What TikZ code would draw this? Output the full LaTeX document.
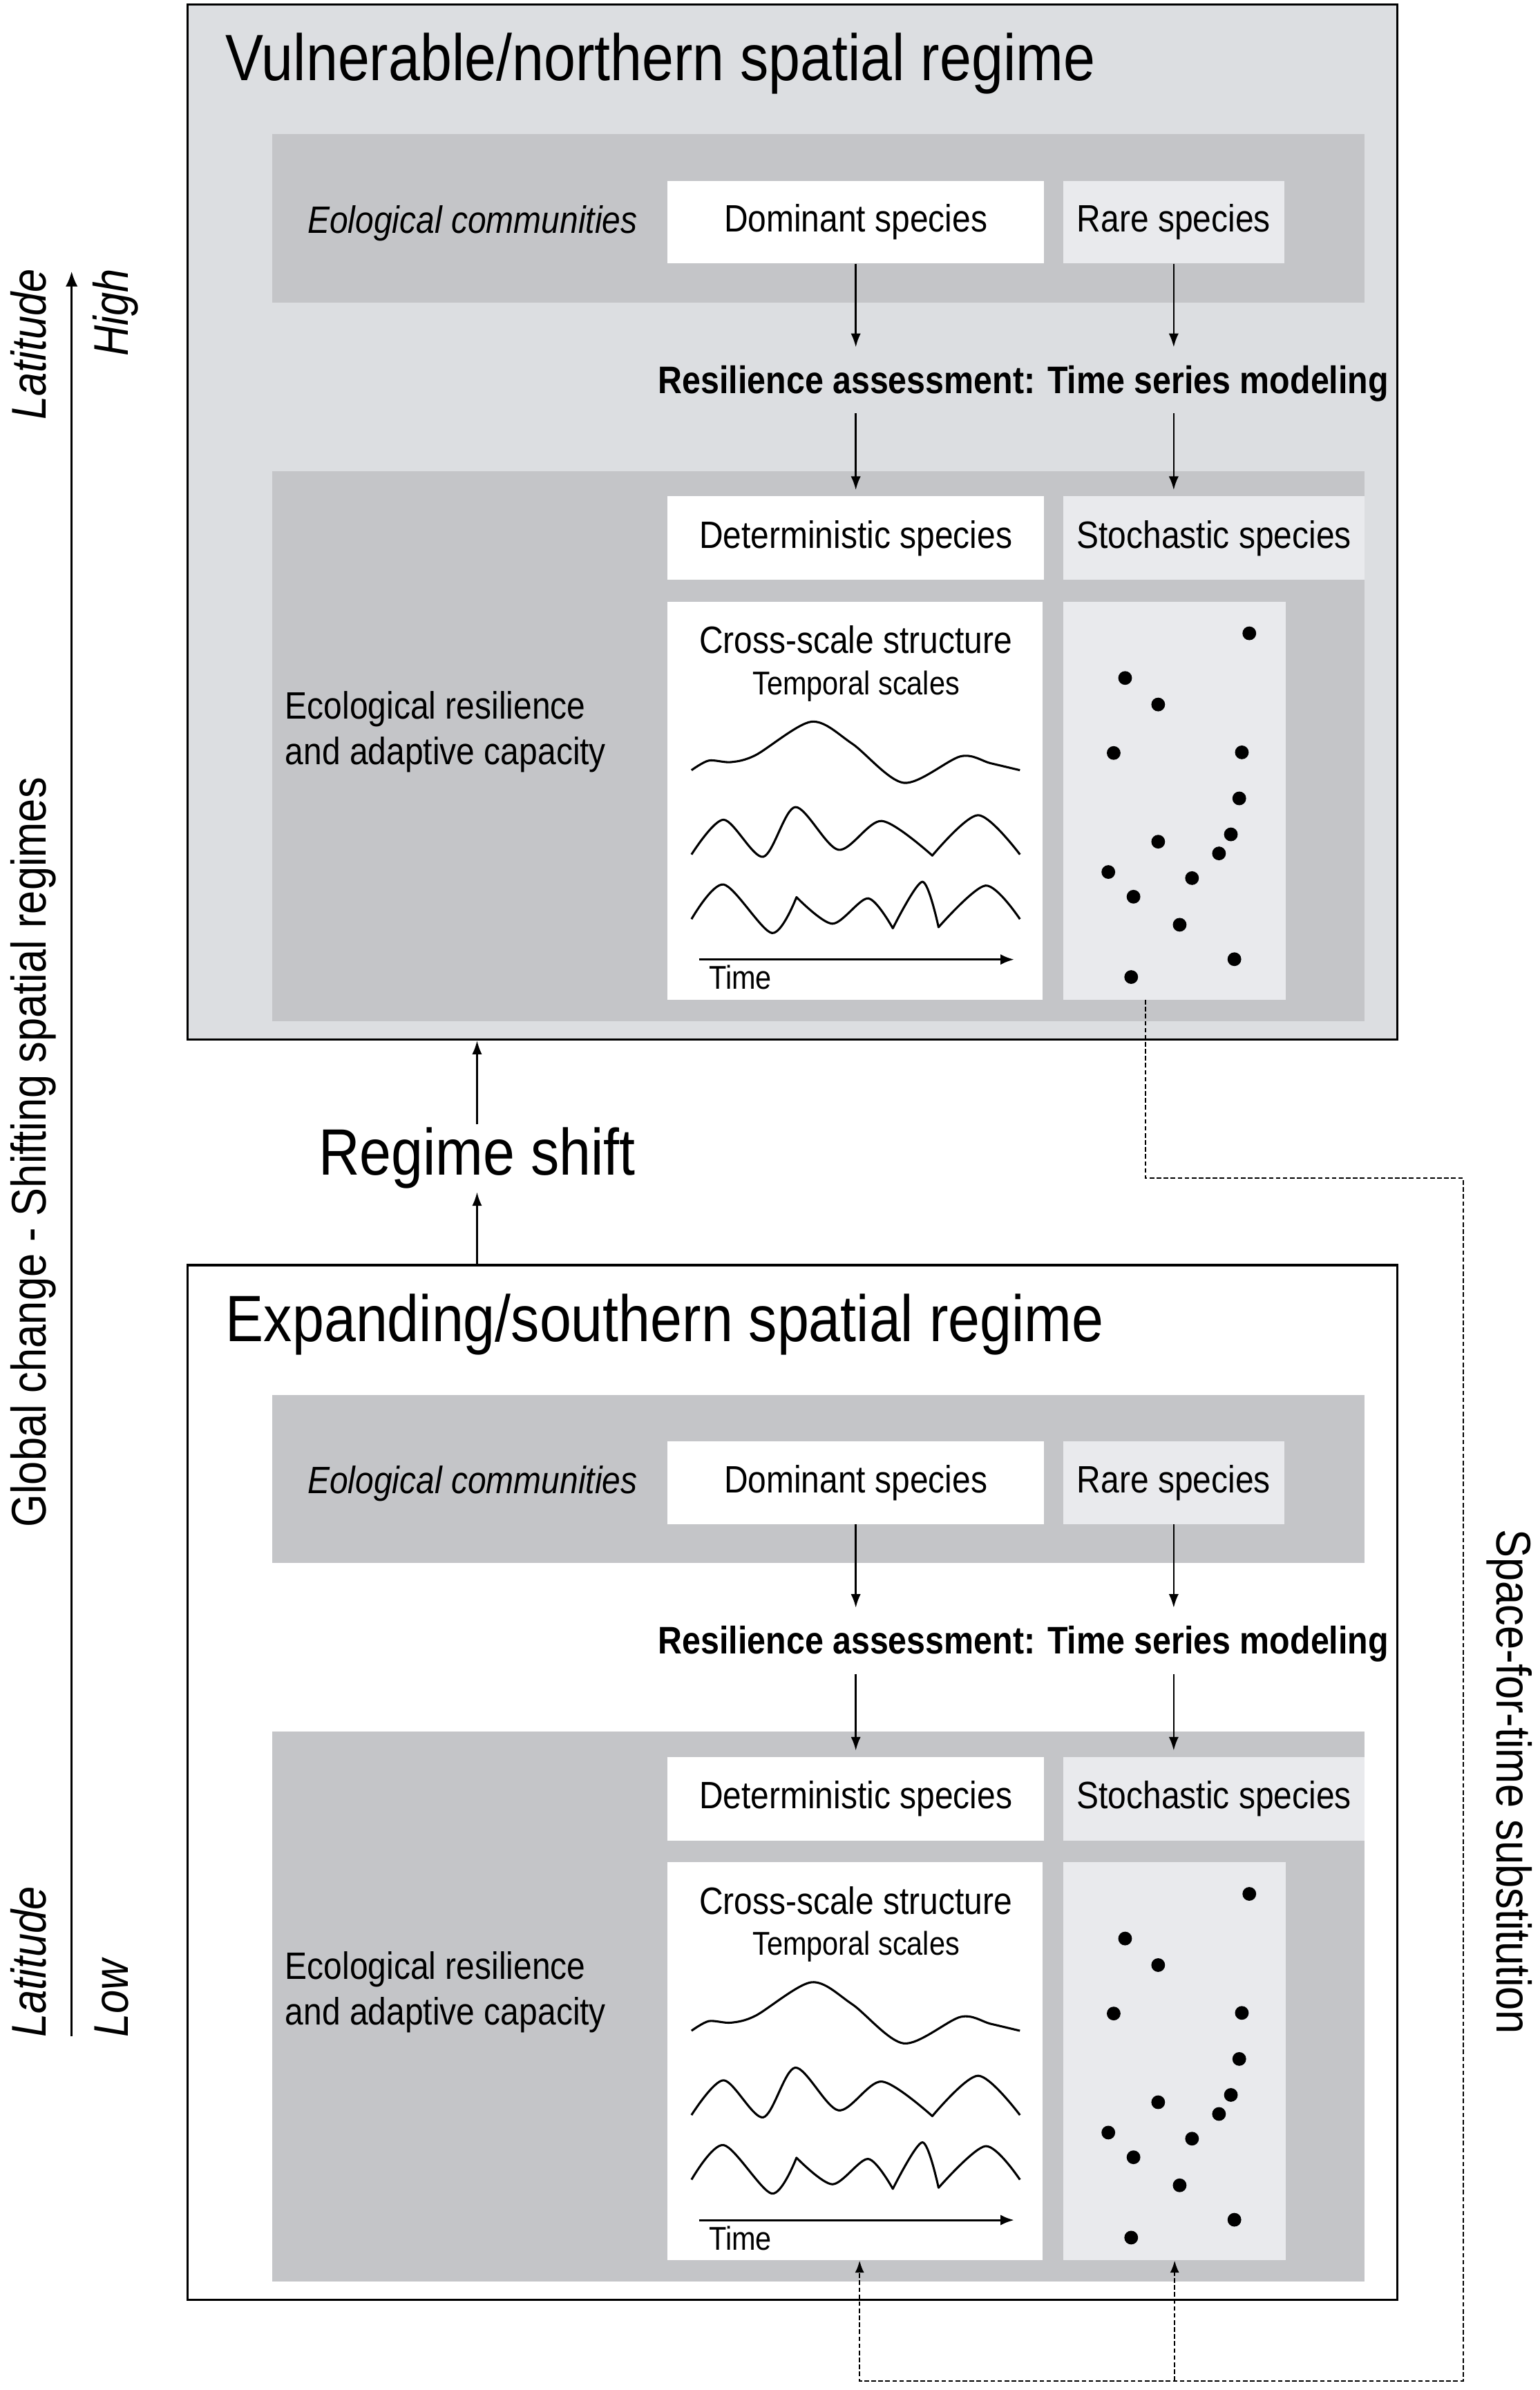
\documentclass[tikz,border=0pt]{standalone}
\usepackage{fontspec}
\setmainfont{Liberation Sans}[FakeStretch=0.87]
\usetikzlibrary{arrows.meta}
\definecolor{panelgray}{HTML}{DCDEE1}
\definecolor{bandgray}{HTML}{C4C5C8}
\definecolor{palegray}{HTML}{E9EAED}
\newcommand{\ttlfont}{\fontsize{43}{48}\selectfont}
\newcommand{\sidefont}{\fontsize{32}{36}\selectfont}
\newcommand{\boxfont}{\fontsize{25}{30}\selectfont}
\newcommand{\smallfont}{\fontsize{21.6}{25}\selectfont}
\tikzset{every node/.style={inner sep=0pt}}
\tikzset{panel/.style={draw, line width=1.4pt, minimum width=794pt, minimum height=679pt},
  band/.style={fill=bandgray, minimum width=717pt},
  whitebox/.style={fill=white, font=\boxfont},
  palebox/.style={fill=palegray, font=\boxfont},
  arr/.style={-{Latex[length=9pt,width=6.5pt]}, line width=1.1pt},
  wave/.style={line width=1.4pt, line join=round},
  dashlink/.style={dash pattern=on 3pt off 1.6pt, line width=1.1pt}}

\begin{document}
\begin{tikzpicture}[x=1pt, y=-1pt]
  \useasboundingbox (0,0) rectangle (1010,1568);
  % the two spatial regimes
  \node[panel, fill=panelgray] (north) at (520,342.5) {};
  \node[panel, fill=white] (south) at (520,1169.5) {};
  \node[anchor=base west, font=\ttlfont] (northtitle) at (148,53) {Vulnerable/northern spatial regime};
  \node[anchor=base west, font=\ttlfont] (southtitle) at (148,880) {Expanding/southern spatial regime};

  \foreach \n/\dy in {1/0, 2/827} {
    \begin{scope}[shift={(0,\dy)}]
      \node[band, minimum height=110.6pt] (comm\n) at (536.9,143.3) {};
      \node[band, minimum height=361pt] (cap\n) at (536.9,489.5) {};
      \node[anchor=base west, font=\boxfont\itshape] (eco\n) at (201.6,153) {Eological communities};
      \node[whitebox, minimum width=247pt, minimum height=54pt] (dom\n) at (561.5,145.8) {Dominant species};
      \node[palebox, minimum width=145pt, minimum height=54pt] (rare\n) at (770.1,145.8) {Rare species};
      \node[anchor=base, font=\fontsize{25.2}{30}\selectfont\bfseries, text height=18pt, text depth=5pt, inner ysep=8pt]
        (res\n) at (671.5,258) {Resilience assessment: Time series modeling};
      \node[whitebox, minimum width=247pt, minimum height=54.8pt] (det\n) at (561.5,353.1) {Deterministic species};
      \node[palebox, minimum width=197.8pt, minimum height=54.8pt] (stoch\n) at (796.5,353.1) {Stochastic species};
      \node[anchor=west, font=\boxfont, align=left] (resil\n) at (187,480) {Ecological resilience\\and adaptive capacity};
      \draw[arr, shorten >=4pt] (dom\n) -- (dom\n |- res\n.north);
      \draw[arr, shorten >=4pt] (rare\n) -- (rare\n |- res\n.north);
      \draw[arr, shorten >=4pt] (dom\n |- res\n.south) -- (det\n);
      \draw[arr, shorten >=4pt] (rare\n |- res\n.south) -- (rare\n |- stoch\n.north);
      % cross-scale structure
      \node[fill=white, minimum width=246pt, minimum height=261pt] (cross\n) at (561,525.3) {};
      \node[anchor=base, font=\boxfont] (cs\n) at (561.5,428.7) {Cross-scale structure};
      \node[anchor=base, font=\smallfont] (ts\n) at (561.7,455.8) {Temporal scales};
      \draw[wave] plot[smooth] coordinates {(453.7,505.3) (465,499) (479.6,500) (495.8,495.4) (532.3,473.5)
        (559,487.8) (593,513.6) (630.3,496.2) (649.8,500.7) (669.2,505.3)};
      \draw[wave] plot[smooth] coordinates {(453.7,560.6) (474.8,537.8) (500.7,562.1) (521.8,529.5) (550.1,557.5)
        (578.5,538.6) (611.7,561.3)} -- plot[smooth] coordinates {(611.7,561.3) (641.7,534.8) (669.2,560.6)};
      \draw[wave] plot[smooth] coordinates {(453.7,603) (474.8,580.3) (506.4,612.1) (522.6,588.6)}
        -- plot[smooth] coordinates {(522.6,588.6) (546.1,606) (569.6,589.4) (585.8,609)}
        -- plot[smooth] coordinates {(585.8,609) (605.2,578.5) (615.8,608.3)}
        -- plot[smooth] coordinates {(615.8,608.3) (646.6,581) (669.2,603)};
      \draw[wave, -{Latex[length=9pt,width=7pt]}] (458.6,629.5) -- (665.4,629.5);
      \node[anchor=base west, font=\smallfont] (time\n) at (465,649) {Time};
      % stochastic species
      \node[fill=palegray, minimum width=146.2pt, minimum height=261pt] (dots\n) at (770.7,525.3) {};
      \foreach \u/\v in {819.7/415.5, 738.2/444.8, 759.9/462.2, 730.7/494, 814.8/493.6, 813.1/523.8,
        807.6/547.4, 759.9/552.2, 799.8/559.9, 727.2/572.1, 782.1/576.1, 743.7/588.3, 774/606.7,
        809.9/629.3, 742.2/641}
        \fill (\u,\v) circle (4.5);
    \end{scope}
  }

  \node[anchor=base, font=\ttlfont, inner ysep=2pt] (regshift) at (313,771) {Regime shift};
  \draw[arr] (regshift.south |- south.north) -- (regshift.south);
  \draw[arr] (regshift.north) -- (regshift.north |- north.south);

  % latitude axis
  \coordinate (latlow) at (47,1336);
  \coordinate (lathigh) at (47,178);
  \draw[line width=1.4pt, -{Latex[length=10pt,width=8pt]}] (latlow) -- (lathigh);
  \node[rotate=90, anchor=base, font=\sidefont\itshape] (lattop) at (30,226) {Latitude};
  \node[rotate=90, anchor=base, font=\sidefont\itshape] (high) at (84,205) {High};
  \node[rotate=90, anchor=base, font=\sidefont] (global) at (30,756) {Global change - Shifting spatial regimes};
  \node[rotate=90, anchor=base, font=\sidefont\itshape] (latbot) at (30,1287) {Latitude};
  \node[rotate=90, anchor=base, font=\sidefont\itshape] (low) at (84,1311) {Low};

  % space-for-time link
  \node[rotate=-90, anchor=base, font=\sidefont] (sft) at (982,1169) {Space-for-time substitution};
  \coordinate (sftturn) at (960,773);
  \coordinate (sftfloor) at (960,1562);
  \draw[dashlink, -{Latex[length=8pt,width=6pt]}] ([xshift=-19pt]dots1.south) |- (sftturn) -- (sftfloor)
    -| ([xshift=3pt]cross2.south);
  \draw[dashlink, -{Latex[length=8pt,width=6pt]}] (dots2.south |- sftfloor) -- (dots2.south);
\end{tikzpicture}
\end{document}
